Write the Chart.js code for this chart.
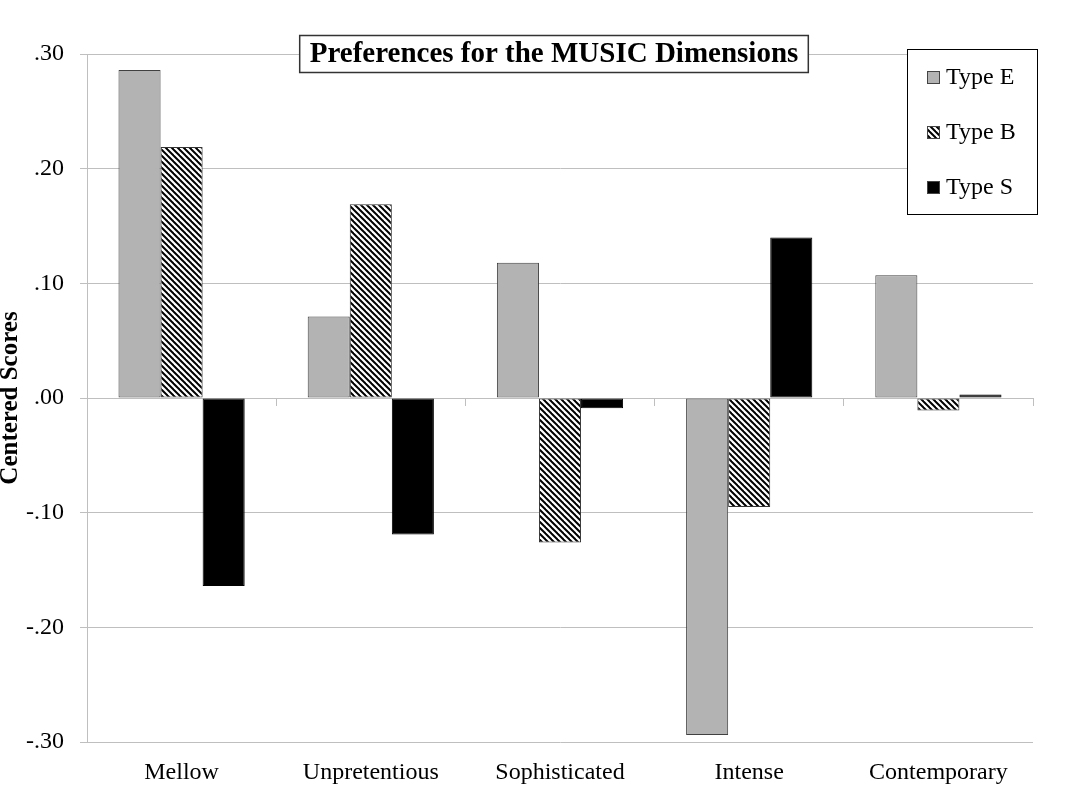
<!DOCTYPE html>
<html>
<head>
<meta charset="utf-8">
<script src="https://cdn.jsdelivr.net/npm/chart.js@4.4.1/dist/chart.umd.min.js"></script>
<style>
  html, body { margin: 0; padding: 0; background: #ffffff; }
  #wrap { width: 1080px; height: 793px; }
</style>
</head>
<body>
<div id="wrap"><canvas id="musicChart" width="1080" height="793"></canvas></div>
<script>
const dimensions = ["Mellow", "Unpretentious", "Sophisticated", "Intense", "Contemporary"];
const typeE = [0.286, 0.071, 0.118, -0.294, 0.107];
const typeB = [0.219, 0.169, -0.126, -0.095, -0.011];
const typeS = [-0.164, -0.119, -0.009, 0.140, 0.003];
const yTicks = [-0.30, -0.20, -0.10, 0.00, 0.10, 0.20, 0.30];

const serif = "'Liberation Serif', 'Times New Roman', serif";

// diagonal hatch for Type B
function makeHatch() {
    const c = document.createElement('canvas');
    c.width = 6;
    c.height = 6;
    const g = c.getContext('2d');
    g.fillStyle = '#ffffff';
    g.fillRect(0, 0, 6, 6);
    g.strokeStyle = '#000000';
    g.lineWidth = 2;
    for (let k = -6; k <= 6; k += 6) {
        g.beginPath();
        g.moveTo(k - 1, -1);
        g.lineTo(k + 7, 7);
        g.stroke();
    }
    return g.createPattern(c, 'repeat');
}
const hatch = makeHatch();

function fmt(v) {
    return Number(v).toFixed(2).replace(/^(-?)0\./, '$1.');
}

const boxes = {
    id: 'boxes',
    afterDraw(chart) {
        const ctx = chart.ctx;
        ctx.save();
        // title box
        ctx.font = "bold 29px " + serif;
        const title = "Preferences for the MUSIC Dimensions";
        const tw = ctx.measureText(title).width;
        const cx = 554, cy = 54;
        ctx.fillStyle = '#ffffff';
        ctx.fillRect(cx - tw / 2 - 10, cy - 18.5, tw + 20, 37);
        ctx.strokeStyle = '#333333';
        ctx.lineWidth = 1.5;
        ctx.strokeRect(cx - tw / 2 - 10, cy - 18.5, tw + 20, 37);
        ctx.fillStyle = '#000000';
        ctx.textAlign = 'center';
        ctx.textBaseline = 'middle';
        ctx.fillText(title, cx, cy + 1);

        // legend box
        ctx.fillStyle = '#ffffff';
        ctx.fillRect(907.5, 49.5, 130, 165);
        ctx.strokeStyle = '#000000';
        ctx.lineWidth = 1;
        ctx.strokeRect(907.5, 49.5, 130, 165);
        const rows = [77, 132, 187];
        ctx.font = "24px " + serif;
        ctx.textAlign = 'left';
        chart.data.datasets.forEach((ds, i) => {
            ctx.fillStyle = ds.backgroundColor;
            ctx.fillRect(927, rows[i] - 6, 13, 13);
            ctx.strokeStyle = '#444444';
            ctx.strokeRect(927.5, rows[i] - 5.5, 12, 12);
            ctx.fillStyle = '#000000';
            ctx.fillText(ds.label, 946, rows[i] + 1);
        });
        ctx.restore();
    }
};

const config = {
    type: 'bar',
    data: {
        labels: dimensions,
        datasets: [
            { label: 'Type E', data: typeE, backgroundColor: '#b3b3b3', borderColor: '#404040', borderWidth: 1 },
            { label: 'Type B', data: typeB, backgroundColor: hatch, borderColor: '#333333', borderWidth: 1 },
            { label: 'Type S', data: typeS, backgroundColor: '#000000', borderColor: '#000000', borderWidth: 1 }
        ]
    },
    options: {
        responsive: false,
        animation: false,
        devicePixelRatio: 1,
        layout: { padding: { top: 54, right: 47, left: 0, bottom: 0 } },
        datasets: { bar: { categoryPercentage: 0.667, barPercentage: 1.0, borderSkipped: false } },
        plugins: {
            legend: { display: false },
            title: { display: false },
            tooltip: { enabled: false }
        },
        scales: {
            x: {
                position: 'bottom',
                grid: { display: false, drawTicks: false },
                border: { display: false },
                ticks: { color: '#000000', font: { family: serif, size: 24 }, padding: 16, maxRotation: 0 },
                afterFit(scale) { scale.height = 51; }
            },
            x0: {
                type: 'category',
                position: { y: 0 },
                grid: { drawOnChartArea: false, drawTicks: true, tickLength: 7, color: '#bfbfbf', offset: true },
                border: { display: true, color: '#bfbfbf' },
                ticks: { display: false }
            },
            y: {
                min: -0.3,
                max: 0.3,
                afterBuildTicks(scale) { scale.ticks = yTicks.map(v => ({ value: v })); },
                grid: { color: '#bfbfbf', tickLength: 7 },
                border: { display: true, color: '#bfbfbf' },
                ticks: { color: '#000000', font: { family: serif, size: 24 }, padding: 16, callback: v => fmt(v) },
                title: {
                    display: true,
                    text: 'Centered Scores',
                    color: '#000000',
                    font: { family: serif, size: 25, weight: 'bold', lineHeight: 0.85 },
                    padding: 0
                },
                afterFit(scale) { scale.width = 87; }
            }
        }
    },
    plugins: [boxes]
};

const musicChart = new Chart(document.getElementById('musicChart'), config);
</script>
</body>
</html>
